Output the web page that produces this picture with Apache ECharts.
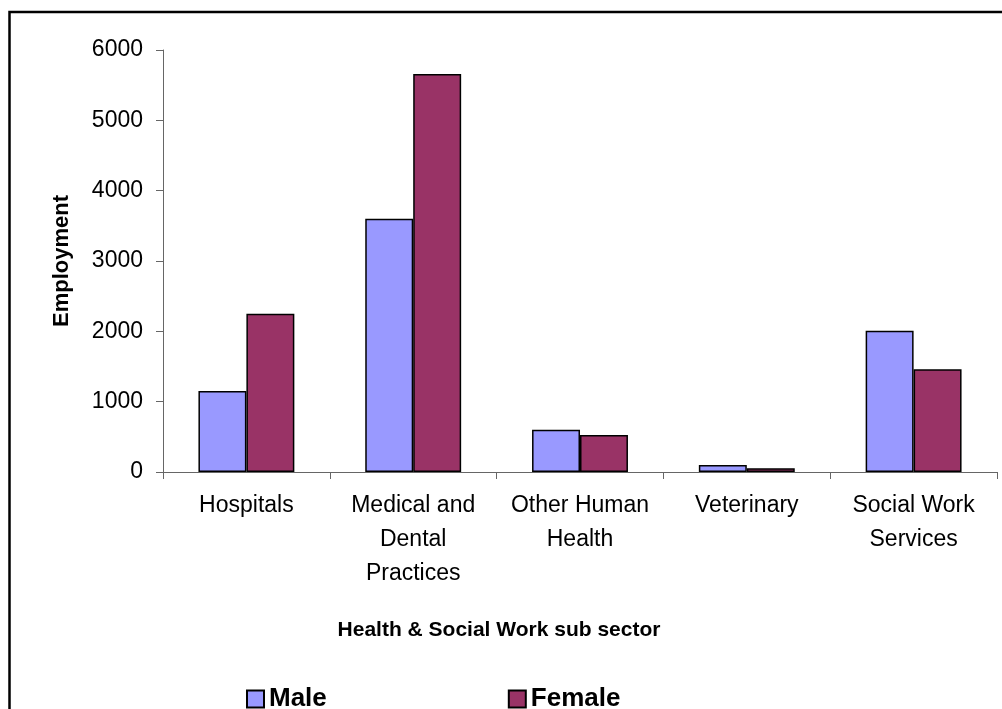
<!DOCTYPE html>
<html>
<head>
<meta charset="utf-8">
<script src="https://cdn.jsdelivr.net/npm/echarts@6/dist/echarts.min.js"></script>
<style>
html,body{margin:0;padding:0;background:#fff;}
#chart{width:1002px;height:709px;}
</style>
</head>
<body>
<div id="chart"></div>
<script>
const categories = ['Hospitals', 'Medical and\nDental\nPractices', 'Other Human\nHealth', 'Veterinary', 'Social Work\nServices'];
const maleValues = [1150, 3600, 600, 100, 2010];
const femaleValues = [2250, 5660, 525, 55, 1460];
const yTicks = { min: 0, max: 6000, interval: 1000 };

const chart = echarts.init(document.getElementById('chart'));
const fontFamily = '"Liberation Sans", Arial, sans-serif';
const axisColor = '#666666';

chart.setOption({
  animation: false,
  backgroundColor: '#ffffff',
  textStyle: { fontFamily: fontFamily, color: '#000' },
  grid: { left: 163, right: 5, top: 50, bottom: 237, containLabel: false },
  legend: {
    left: 241,
    top: 681,
    itemWidth: 17,
    itemHeight: 17,
    itemGap: 181,
    icon: 'rect',
    textStyle: { fontSize: 26, fontWeight: 'bold', color: '#000', fontFamily: fontFamily },
    data: ['Male', 'Female']
  },
  xAxis: {
    type: 'category',
    data: categories,
    axisLine: { lineStyle: { color: axisColor, width: 1 } },
    axisTick: { show: true, length: 7, alignWithLabel: false, lineStyle: { color: axisColor } },
    axisLabel: {
      interval: 0,
      fontSize: 23,
      lineHeight: 34,
      margin: 17,
      color: '#000',
      fontFamily: fontFamily
    }
  },
  yAxis: {
    type: 'value',
    min: yTicks.min,
    max: yTicks.max,
    interval: yTicks.interval,
    name: 'Employment',
    nameLocation: 'middle',
    nameRotate: 90,
    nameGap: 90,
    nameTextStyle: { fontSize: 22, fontWeight: 'bold', color: '#000', fontFamily: fontFamily },
    splitLine: { show: false },
    axisLine: { show: true, lineStyle: { color: axisColor, width: 1 } },
    axisTick: { show: true, length: 7, lineStyle: { color: axisColor } },
    axisLabel: {
      fontSize: 23,
      margin: 20,
      color: '#000',
      fontFamily: fontFamily,
      formatter: function (v) { return String(v); }
    }
  },
  series: [
    {
      name: 'Male',
      type: 'bar',
      data: maleValues,
      barGap: '0%',
      barCategoryGap: '42.5%',
      itemStyle: { color: '#9999FF', borderColor: '#000', borderWidth: 1.5 }
    },
    {
      name: 'Female',
      type: 'bar',
      data: femaleValues,
      barGap: '0%',
      barCategoryGap: '42.5%',
      itemStyle: { color: '#993366', borderColor: '#000', borderWidth: 1.5 }
    }
  ],
  graphic: [
    {
      type: 'rect',
      shape: { x: 9.5, y: 12, width: 1020, height: 740 },
      style: { fill: null, stroke: '#000', lineWidth: 2.5 },
      silent: true
    },
    {
      type: 'text',
      x: 499,
      y: 630,
      style: {
        text: 'Health & Social Work sub sector',
        fontSize: 21,
        fontWeight: 'bold',
        fontFamily: fontFamily,
        fill: '#000',
        align: 'center',
        verticalAlign: 'middle'
      }
    }
  ]
});
</script>
</body>
</html>
